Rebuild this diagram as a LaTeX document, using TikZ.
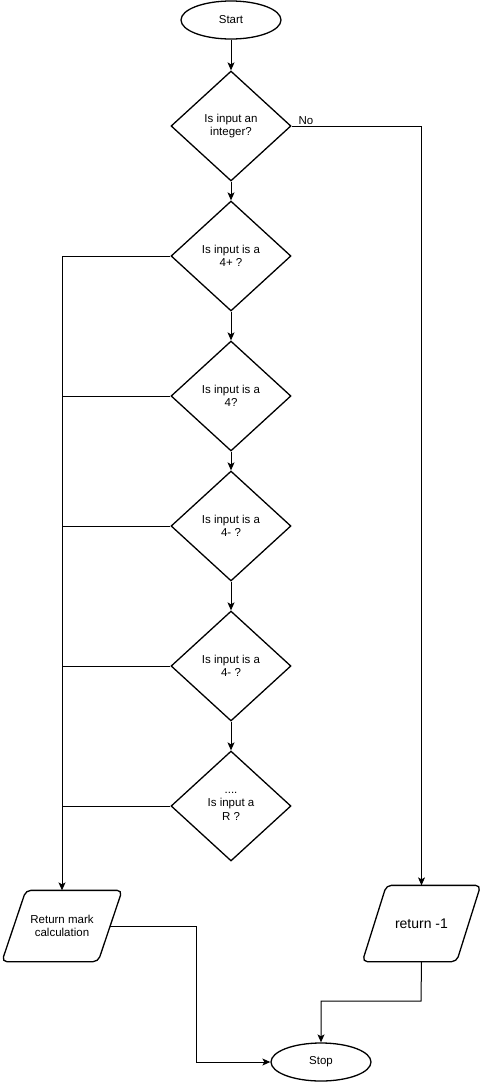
\documentclass[tikz,border=0pt]{standalone}
\usepackage{fontspec}
\setmainfont{Liberation Sans}
\usetikzlibrary{shapes.geometric,arrows.meta}
\begin{document}
\begin{tikzpicture}[x=1pt,y=-1pt,
  every node/.style={font=\fontsize{11.5}{13.5}\selectfont, align=center, line width=1.3pt},
  term/.style={draw, ellipse, minimum width=100pt, minimum height=38pt, inner sep=0pt},
  decision/.style={draw, diamond, aspect=1.09, minimum width=120pt, minimum height=110pt, inner sep=0pt},
  iobox/.style={rectangle, minimum width=95pt, inner sep=0pt},
  ioshape/.style={draw, line width=1.3pt, rounded corners=5pt},
  conn/.style={line width=1pt},
  arr/.style={conn, -{Stealth[length=8pt,width=7pt,inset=2pt]}}
]
\useasboundingbox (0,0) rectangle (482,1082);
\node[term] (start) at (231,20) {Start};
\node[decision] (d1) at (231,126) {Is input an\\integer?};
\node[decision] (d2) at (231,256) {Is input is a\\4+ ?};
\node[decision] (d3) at (231,396) {Is input is a\\4?};
\node[decision] (d4) at (231,526) {Is input is a\\4- ?};
\node[decision] (d5) at (231,666) {Is input is a\\4- ?};
\node[decision] (d6) at (231,806) {....\\Is input a\\R ?};
\node[iobox, minimum height=70pt] (rm) at (62,926) {Return mark\\calculation};
\node[iobox, minimum height=75pt, minimum width=93pt, font=\fontsize{14}{16}\selectfont] (rn) at (421.5,923.5) {return -1};
\node[term] (stop) at (321,1062) {Stop};
\coordinate (c1) at (196,927);
\coordinate (c2) at (421,1001);

\foreach \n in {rm,rn}{
  \draw[ioshape] (\n.north) -- ([xshift=12pt]\n.north east) -- ([xshift=-12pt]\n.south east) -- ([xshift=-12pt]\n.south west) -- ([xshift=12pt]\n.north west) -- cycle;
}

\draw[arr] (start) -- (d1);
\draw[arr] (d1) -- (d2);
\draw[arr] (d2) -- (d3);
\draw[arr] (d3) -- (d4);
\draw[arr] (d4) -- (d5);
\draw[arr] (d5) -- (d6);
\draw[arr] (d1.east) -| (rn.north) node[pos=0, anchor=south west, inner sep=1pt, xshift=6pt, line width=0pt] {No};
\draw[arr] (d2.west) -| (rm.north);
\draw[conn] (d3.west) -- (d3.west -| rm.north);
\draw[conn] (d4.west) -- (d4.west -| rm.north);
\draw[conn] (d5.west) -- (d5.west -| rm.north);
\draw[conn] (d6.west) -- (d6.west -| rm.north);
\draw[arr] (rm.east) -| (c1 |- stop.west) -- (stop.west);
\draw[arr] (rn.south) -- (c2) -| (stop.north);
\end{tikzpicture}
\end{document}
